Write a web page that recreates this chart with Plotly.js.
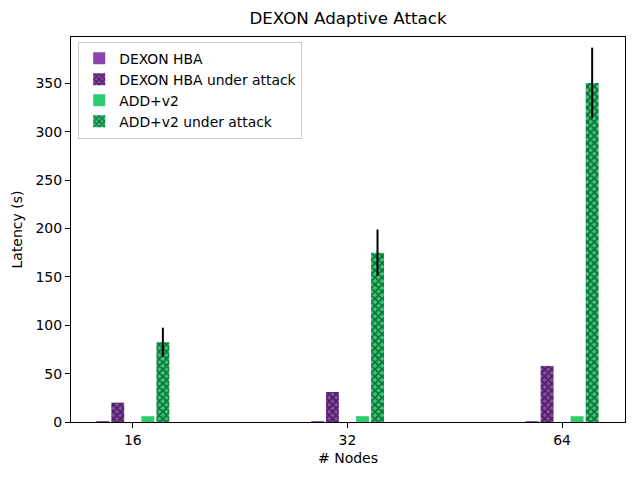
<!DOCTYPE html>
<html>
<head>
<meta charset="utf-8">
<script src="https://cdn.plot.ly/plotly-3.0.1.min.js"></script>
<style>html,body{margin:0;padding:0;background:#fff}#chart{width:640px;height:480px}</style>
</head>
<body>
<div id="chart"></div>
<script>
const categories = ['16', '32', '64'];
const dexonHBA = [1, 1, 1];
const dexonHBAAttack = [20, 31, 58];
const addV2 = [6, 6, 6];
const addV2Attack = [82.5, 175, 350.5];
const addV2AttackErr = [15, 24, 36.5];

const purple = '#8e44ad';
const green = '#2ecc71';
const W = 0.06;
const step = 0.07;

function mk(name, y, color, off, hatch, err) {
  const t = {
    type: 'bar', name: name, x: categories, y: y,
    width: W, offset: off - W / 2,
    marker: { color: color, line: { width: 0 } }
  };
  if (hatch) {
    t.marker.pattern = { shape: 'x', fgcolor: '#000', bgcolor: color, size: 5, solidity: 0.55, fillmode: 'overlay' };
  }
  if (err) {
    t.error_y = { type: 'data', array: err, visible: true, color: '#000', thickness: 2, width: 0 };
  }
  return t;
}

const data = [
  mk('DEXON HBA', dexonHBA, purple, -2 * step, false),
  mk('DEXON HBA under attack', dexonHBAAttack, purple, -1 * step, true),
  mk('ADD+v2', addV2, green, 1 * step, false),
  mk('ADD+v2 under attack', addV2Attack, green, 2 * step, true, addV2AttackErr)
];

const layout = {
  width: 640, height: 480,
  margin: { l: 71, r: 15, t: 37, b: 58 },
  paper_bgcolor: '#fff', plot_bgcolor: '#fff',
  font: { family: 'DejaVu Sans', size: 14, color: '#000' },
  title: { text: 'DEXON Adaptive Attack', font: { size: 16.7 }, x: 0.5, xanchor: 'center', xref: 'paper', y: 22, yref: 'container', yanchor: 'middle' },
  barmode: 'overlay',
  showlegend: true,
  legend: {
    x: 0.013, y: 0.988, xanchor: 'left', yanchor: 'top',
    bgcolor: 'rgba(255,255,255,0.8)', bordercolor: '#cccccc', borderwidth: 1,
    font: { size: 13.9 }, tracegroupgap: 0
  },
  xaxis: {
    type: 'category', range: [-0.288, 2.293],
    showline: true, linecolor: '#000', linewidth: 1, mirror: true,
    ticks: 'outside', ticklen: 5, tickcolor: '#000',
    showgrid: false, zeroline: false,
    title: { text: '# Nodes', font: { size: 14 }, standoff: 6 }
  },
  yaxis: {
    range: [0, 398], dtick: 50, tick0: 0,
    showline: true, linecolor: '#000', linewidth: 1, mirror: true,
    ticks: 'outside', ticklen: 5, tickcolor: '#000',
    showgrid: false, zeroline: false,
    title: { text: 'Latency (s)', font: { size: 14 }, standoff: 9 }
  }
};

Plotly.newPlot('chart', data, layout, { displayModeBar: false, staticPlot: true });
</script>
</body>
</html>
